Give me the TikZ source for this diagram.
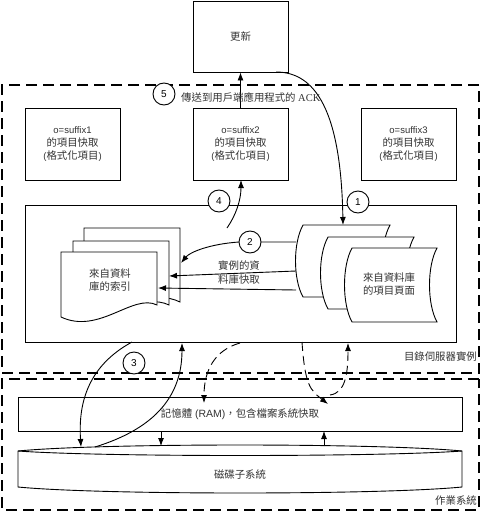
\documentclass[tikz,border=0pt]{standalone}
\usepackage{fontspec}
\setmainfont{Liberation Sans}
\newfontfamily\cjkfont{Noto Sans CJK TC}
\newfontfamily\serfont{Liberation Serif}
\usetikzlibrary{arrows.meta}
\newcommand\zh[1]{{\cjkfont\fontsize{10.4pt}{13pt}\selectfont #1}}
\newcommand\docshape[5]{% name, x0, y0, hr, hl
  \draw[shp] (#2,#3) -- ++(96,0) -- ++(0,#4) .. controls +(-24,-12) and +(38,18) .. (#2,#3+#5) -- cycle;}
\newcommand\storeshape[4]{% xl, xr, yt, yb
  \draw[shp] (#1,#3) -- (#2,#3) .. controls +(-10,18) and +(-10,-18) .. (#2,#4) -- (#1,#4) .. controls +(-10,-18) and +(-10,18) .. (#1,#3) -- cycle;}
\begin{document}
\begin{tikzpicture}[x=1pt,y=-1pt,
  every node/.style={font=\fontsize{9.5pt}{13pt}\selectfont, text=black!80, inner sep=0pt},
  box/.style={draw, line width=0.9pt, fill=white, minimum width=95pt, minimum height=72pt, align=center},
  num/.style={draw, circle, line width=0.9pt, fill=white, minimum size=22pt, text=black, font=\fontsize{10pt}{12pt}\selectfont},
  conn/.style={line width=0.9pt, -{Latex[length=8pt,width=6pt]}},
  dconn/.style={conn, dash pattern=on 9pt off 5pt},
  frame/.style={line width=1.2pt, dash pattern=on 11pt off 6pt},
  shp/.style={line width=0.9pt, fill=white},
  lbl/.style={align=center}]
\useasboundingbox (0,0) rectangle (481,511);
\fill[white] (0,0) rectangle (481,511);

% frames
\draw[frame] (479,85) -- (2,85) -- (2,373) -- (479,373) -- cycle;
\draw[frame] (479,379) -- (2,379) -- (2,510) -- (479,510) -- cycle;
\node[anchor=east] (lblsrv) at (477,357) {\zh{目錄伺服器實例}};
\node[anchor=east] (lblos) at (477,501) {\zh{作業系統}};

% top boxes
\node[box, minimum height=71pt] (upd) at (240.5,36.5) {\zh{更新}};
\node[box] (c1) at (72.5,144) {o=suffix1\\\zh{的項目快取}\\(\zh{格式化項目})};
\node[box] (c2) at (240.5,144) {o=suffix2\\\zh{的項目快取}\\(\zh{格式化項目})};
\node[box] (c3) at (408.5,144) {o=suffix3\\\zh{的項目快取}\\(\zh{格式化項目})};

% inner box
\node[draw, line width=0.9pt, minimum width=431pt, minimum height=137pt] (inner) at (240.5,273.5) {};

% document stack
\docshape{d3}{84}{228}{74}{60}
\docshape{d2}{73}{241}{64}{60}
\docshape{d1}{61}{252}{53}{65}
\node[lbl] (idx) at (110,280.5) {\zh{來自資料}\\\zh{庫的索引}};

% stored data stack
\storeshape{303}{390}{225}{297}
\storeshape{328}{414}{237}{309}
\storeshape{352}{437}{248}{322}
\node[lbl] (pages) at (389,284.5) {\zh{來自資料庫}\\\zh{的項目頁面}};

% RAM and disk
\node[draw, line width=0.9pt, minimum width=444pt, minimum height=34pt, font=\fontsize{10.5pt}{13pt}\selectfont] (ram) at (240,414) {\zh{記憶體} (RAM)\zh{，包含檔案系統快取}};
\draw[shp] (18,451) .. controls (100,443) and (380,443) .. (462,451) -- (462,487) .. controls (380,495) and (100,495) .. (18,487) -- cycle;
\draw[line width=0.9pt] (18,451) .. controls (100,457) and (380,457) .. (462,451);
\node (disk) at (240,475) {\zh{磁碟子系統}};

% coordinates
\coordinate (u1) at (276,72);
\coordinate (s1) at (343,225);
\coordinate (a4s) at (227,228);
\coordinate (a4e) at (241,180);
\coordinate (b2s) at (296,242);
\coordinate (b2m) at (239,242);
\coordinate (b2e) at (181,263);
\coordinate (b3s) at (296,271);
\coordinate (b3e) at (169,276);
\coordinate (b4s) at (296,290);
\coordinate (b4e) at (158,288);
\coordinate (i3s) at (132,342);
\coordinate (k3e) at (81,447);
\coordinate (k3s) at (95,447);
\coordinate (i3e) at (182,343);
\coordinate (ida) at (240,343);
\coordinate (rda) at (204,403);
\coordinate (idb) at (302,342);
\coordinate (rdb) at (328,404);
\coordinate (rdc) at (330,395);
\coordinate (idc) at (348,343);
\coordinate (rm1) at (161,431);
\coordinate (dk1) at (161,446);
\coordinate (dk2) at (324,446);
\coordinate (rm2) at (324,431);

% connectors
\draw[conn] (c2.north) -- (upd.south);
\draw[conn] (u1) .. controls (315,72) and (341,110) .. (s1);
\draw[conn] (a4s) .. controls (236,215) and (241,200) .. (a4e);
\draw[conn] (b2s) -- (b2m) .. controls (210,244) and (190,252) .. (b2e);
\draw[conn] (b3s) -- (b3e);
\draw[conn] (b4s) -- (b4e);
\draw[conn] (i3s) .. controls (90,365) and (78,400) .. (k3e);
\draw[conn] (k3s) .. controls (150,430) and (182,400) .. (i3e);
\draw[dconn] (ida) .. controls (215,350) and (204,370) .. (rda);
\draw[dconn] (idb) .. controls (305,385) and (310,390) .. (rdb);
\draw[dconn] (rdc) .. controls (345,393) and (348,375) .. (idc);
\draw[conn] (rm1) -- (dk1);
\draw[conn] (dk2) -- (rm2);

\node[lbl, font=\fontsize{9pt}{14pt}\selectfont] (cachelbl) at (239,273) {\zh{實例的資}\\\zh{料庫快取}};

% numbered circles
\node[num] (n5) at (164,94) {5};
\node[anchor=west] (ack) at (181,97) {\zh{傳送到用戶端應用程式的} {\serfont\fontsize{10.5pt}{13pt}\selectfont ACK}};
\node[num] (n4) at (219,201) {4};
\node[num] (n1) at (358,202) {1};
\node[num] (n2) at (250,242) {2};
\node[num] (n3) at (134,363) {3};
\end{tikzpicture}
\end{document}
